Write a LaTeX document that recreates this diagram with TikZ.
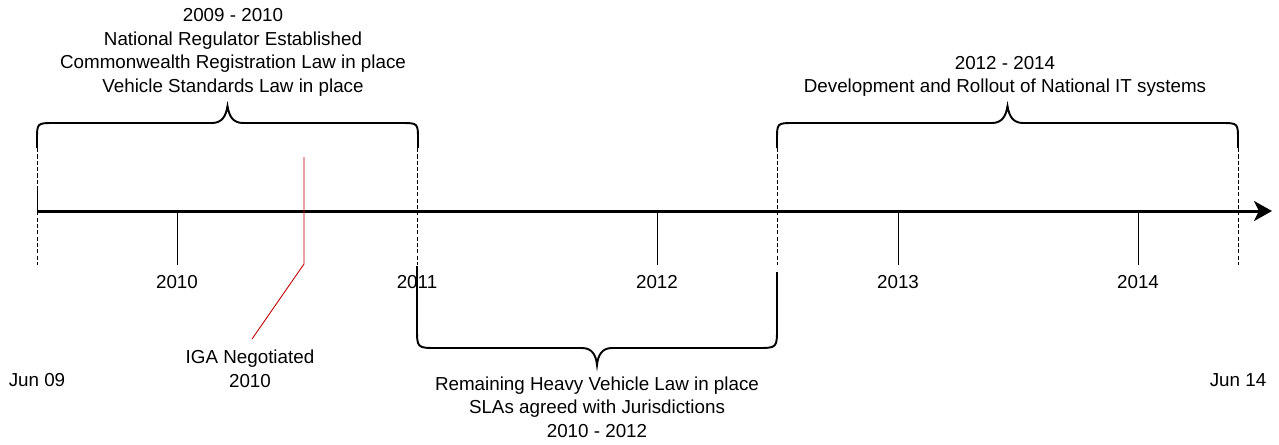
\documentclass[tikz,border=0pt]{standalone}
\usepackage{fontspec}
\setmainfont{Liberation Sans}
\definecolor{igared}{RGB}{192,0,0}
\usetikzlibrary{arrows.meta}

\begin{document}
\begin{tikzpicture}[x=0.02cm, y=-0.02cm,
    every node/.style={font=\fontsize{10.7}{13.4}\selectfont, align=center, inner sep=0pt},
    timeline/.style={line width=1.7pt, -{Stealth[length=0.36cm, width=0.4cm, inset=0.1cm]}},
    yeartick/.style={line width=0.5pt},
    phaseline/.style={line width=0.5pt, dash pattern=on 2.4pt off 1.2pt},
    brace/.style={line width=1.1pt},
    igaline/.style={line width=0.5pt, igared}]
    \useasboundingbox (0,0) rectangle (1279,444);

    % Timeline
    \coordinate (jun09) at (37,211);
    \coordinate (tlend) at (1272,211);
    \draw[timeline] (jun09) -- (tlend);
    \draw[yeartick] (37,187) -- (jun09);

    % Years
    \foreach \yr/\xx in {2010/177, 2012/657, 2013/898, 2014/1138}
        \draw[yeartick] (\xx,211) -- (\xx,265);
    \foreach \yr/\xx in {2010/177, 2011/417, 2012/657, 2013/898, 2014/1138}
        \node (lbl\yr) at (\xx,282) {\yr};
    \node (lbljun09) at (37,380) {Jun 09};
    \node (lbljun14) at (1238,380) {Jun 14};

    % Phase boundaries
    \foreach \xx in {37, 417, 777, 1238}
        \draw[phaseline] (\xx,148) -- (\xx,265);

    % Braces
    \draw[brace] (37,148) -- (37,140) .. controls (37,123) .. (54,123) -- (212,123)
        .. controls (222,123) and (226,116) .. (227.5,106)
        .. controls (229,116) and (233,123) .. (243,123) -- (401,123)
        .. controls (418,123) .. (418,140) -- (418,148);
    \draw[brace] (777,148) -- (777,140) .. controls (777,123) .. (794,123) -- (992,123)
        .. controls (1002,123) and (1006,116) .. (1007.5,106)
        .. controls (1009,116) and (1013,123) .. (1023,123) -- (1221,123)
        .. controls (1238,123) .. (1238,140) -- (1238,148);
    \draw[brace] (417,266) -- (417,328) .. controls (417,348) .. (437,348) -- (582,348)
        .. controls (592,348) and (596,355) .. (597,365)
        .. controls (598,355) and (602,348) .. (612,348) -- (757,348)
        .. controls (777,348) .. (777,328) -- (777,272);

    % Phase texts
    \node (phase1) at (233,52.5) {2009 - 2010\\National Regulator Established\\Commonwealth Registration Law in place\\Vehicle Standards Law in place};
    \node (phase2) at (597,407) {Remaining Heavy Vehicle Law in place\\SLAs agreed with Jurisdictions\\2010 - 2012};
    \node (phase3) at (1005,76.5) {2012 - 2014\\Development and Rollout of National IT systems};

    % IGA
    \coordinate (igatop) at (304,157);
    \coordinate (igabend) at (304,264);
    \coordinate (igaend) at (252,339);
    \node (igalbl) at (250,369) {IGA Negotiated\\2010};
    \draw[igaline] (igatop) -- (igabend) -- (igaend);
\end{tikzpicture}
\end{document}
